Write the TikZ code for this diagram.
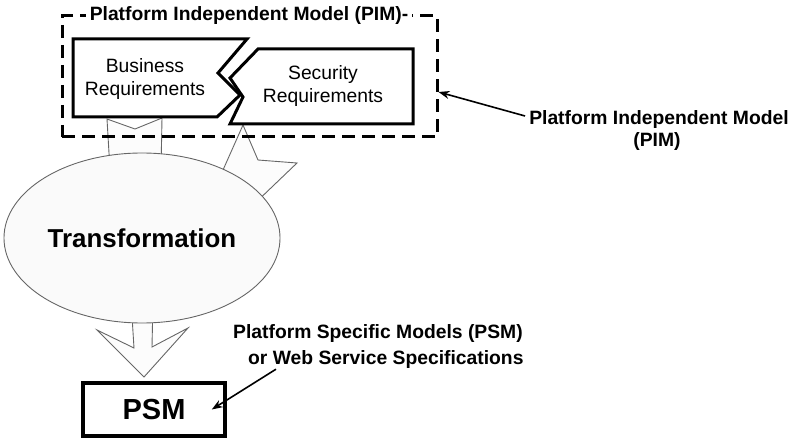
\documentclass[tikz,border=0pt]{standalone}
\usepackage{fontspec}
\setmainfont{Liberation Sans}
\usetikzlibrary{shapes.geometric,arrows.meta}
\begin{document}
\begin{tikzpicture}[x=1pt,y=-1pt,
  thinline/.style={draw=black!60,line width=0.9pt},
  blockarrow/.style={thinline,fill=gray!2},
  reqbox/.style={draw=black,line width=3pt,fill=white,line join=miter},
  lbl/.style={font=\fontsize{19.3}{23}\selectfont\bfseries,inner sep=2pt},
  reqtext/.style={font=\fontsize{19.3}{23}\selectfont,align=center,inner sep=0pt},
  pointer/.style={draw=black,line width=1.6pt,-{Stealth[length=11pt,width=8pt]}}]
\useasboundingbox (0,0) rectangle (795,438);
% arrow tails into the transformation
\draw[blockarrow] (107,119) -- (135,129) -- (162,118) -- (161,170) -- (110,170) -- cycle;
\draw[blockarrow] (243,125) -- (258,160) -- (297,163) -- (250,208) -- (215,188) -- cycle;
% arrow out of the transformation
\draw[blockarrow] (131,300) -- (134,348) -- (97,330) -- (144,377) -- (188,328) -- (152,347) -- (153,300) -- cycle;
% transformation ellipse
\node[ellipse,thinline,fill=gray!4,minimum width=258pt,minimum height=170pt,
  font=\fontsize{25.9}{30}\selectfont\bfseries] (trans) at (142,238) {Transformation};
% PIM dashed box
\node[draw=black,line width=3pt,dash pattern=on 13pt off 7pt,minimum width=375pt,
  minimum height=121pt,inner sep=0pt] (pim) at (249.5,76.5) {};
\node[lbl,fill=white,inner sep=4pt] (pimtitle) at (249,16) {Platform Independent Model (PIM)-};
% requirement boxes
\draw[reqbox] (73,39) -- (247,39) -- (218,73) -- (240,95) -- (217,117) -- (73,117) -- cycle;
\node[reqtext] (bus) at (145,79) {Business\\Requirements};
\draw[reqbox] (258,49) -- (413,49) -- (413,124) -- (230,124) -- (243,97) -- (230,78) -- cycle;
\node[reqtext] (sec) at (323,86) {Security\\Requirements};
% PSM box
\node[draw=black,line width=3.5pt,minimum width=142pt,minimum height=53pt,
  font=\fontsize{29}{34}\selectfont\bfseries] (psm) at (154,409.5) {PSM};
% labels
\node[lbl] (piml1) at (659,120) {Platform Independent Model};
\node[lbl] (piml2) at (657,142) {(PIM)};
\node[lbl,anchor=west] (psml1) at (231,334) {Platform Specific Models (PSM)};
\node[lbl,anchor=west] (psml2) at (246,360) {or Web Service Specifications};
% pointers
\draw[pointer] ([xshift=-2pt,yshift=4pt]piml1.west) -- ([yshift=-15.5pt]pim.east);
\draw[pointer] ([xshift=30pt,yshift=2pt]psml2.south west) -- ([xshift=-15pt]psm.east);
\end{tikzpicture}
\end{document}
